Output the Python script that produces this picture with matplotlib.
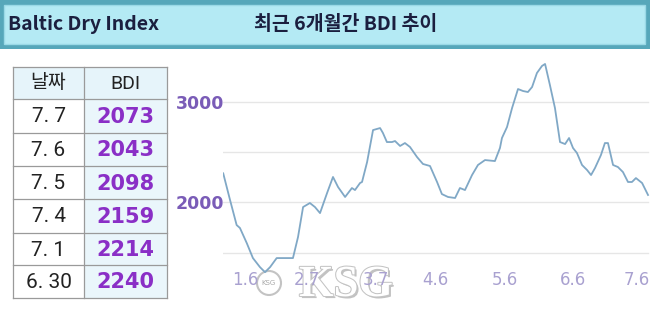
import matplotlib.pyplot as plt
import matplotlib.patheffects as pe
import matplotlib.transforms as mtrans
from matplotlib.patches import Rectangle, Circle

# table on the left
table_dates = ['7. 7', '7. 6', '7. 5', '7. 4', '7. 1', '6. 30']
table_bdi = [2073, 2043, 2098, 2159, 2214, 2240]

# 6 month BDI line (x = days after 1.6)
days = [-9.9, -6.8, -3.8, -2.3, 0.8, 3.6, 6.8, 9.1, 11.4, 14.4, 16.7, 21.8, 24.1, 26.4,
        29.5, 31.8, 34.1, 37.3, 40.0, 42.3, 45.5, 48.6, 50.0, 52.3, 53.2, 55.5, 58.2,
        61.4, 62.7, 64.5, 66.8, 68.2, 70.5, 72.7, 75.0, 78.2, 80.9, 84.1, 87.3, 89.5,
        92.3, 95.5, 97.7, 100.0, 103.2, 105.9, 109.1, 113.6, 115.9, 116.8, 119.1, 121.4,
        124.1, 126.4, 128.6, 130.5, 132.7, 135.0, 136.4, 138.6, 140.9, 143.2, 145.5,
        147.3, 149.1, 150.9, 153.2, 155.5, 157.3, 159.1, 161.8, 163.6, 165.0, 167.3,
        169.5, 171.8, 174.1, 175.9, 177.7, 180.5, 183.2]
bdi = [2288, 2023, 1774, 1745, 1595, 1446, 1356, 1306, 1356, 1446, 1446, 1446, 1655, 1953,
       1993, 1953, 1893, 2092, 2252, 2152, 2053, 2142, 2122, 2192, 2202, 2400, 2718,
       2738, 2689, 2599, 2599, 2609, 2560, 2589, 2550, 2450, 2381, 2361, 2202, 2082,
       2053, 2043, 2142, 2122, 2271, 2371, 2420, 2410, 2540, 2639, 2748, 2937,
       3126, 3106, 3096, 3146, 3285, 3355, 3375, 3166, 2937, 2599, 2579,
       2639, 2540, 2490, 2371, 2321, 2271, 2341, 2470, 2589, 2589, 2371,
       2351, 2301, 2202, 2202, 2241, 2192, 2073]

tick_pos = [0, 28.2, 59.5, 86.4, 118.2, 149.1, 180.9]
tick_labels = ['1.6', '2.7', '3.7', '4.6', '5.6', '6.6', '7.6']
grid_levels = [1500, 2000, 2500, 3000]
label_levels = [2000, 3000]

KR = ['Noto Sans CJK KR', 'DejaVu Sans']

fig = plt.figure(figsize=(6.5, 3.11), dpi=100)
fig.patch.set_facecolor('white')

# background axes in pixel coords
bg = fig.add_axes([0, 0, 1, 1])
bg.set_xlim(0, 650)
bg.set_ylim(311, 0)
bg.axis('off')

# header band
bg.add_patch(Rectangle((0, 0), 650, 49, color='#56a7ba', lw=0))
bg.add_patch(Rectangle((4, 5), 641, 39, facecolor='#b4eaf4', edgecolor='#9ad9e6', lw=1))
bg.text(8, 24.5, 'Baltic Dry Index', family=KR, fontsize=14, fontweight='bold',
        color='#1b1f3f', ha='left', va='center')
bg.text(346, 24.5, '최근 6개월간 BDI 추이', family=KR, fontsize=14, fontweight='bold',
        color='#1b1f3f', ha='center', va='center')

# table
row_edges = [67, 99, 133, 166, 199, 233, 265, 298]
col_edges = [13, 84, 167]
bg.add_patch(Rectangle((13, 67), 154, 32, color='#e6f4fa', lw=0))
bg.add_patch(Rectangle((84, 99), 83, 199, color='#eaf6fb', lw=0))
for y in row_edges:
    bg.plot([13, 167], [y, y], color='#9a9a9a', lw=0.9)
for x in col_edges:
    bg.plot([x, x], [67, 298], color='#9a9a9a', lw=0.9)

bg.text(48.5, 83, '날짜', family=KR, fontsize=14, color='#222222', ha='center', va='center')
bg.text(125.5, 84, 'BDI', family='Roboto', fontsize=14, color='#222222', ha='center', va='center')
for i in range(len(table_dates)):
    yc = (row_edges[i + 1] + row_edges[i + 2]) / 2
    bg.text(48.5, yc + 1, table_dates[i], family='Roboto', fontsize=15, color='#222222',
            ha='center', va='center')
    bg.text(125.5, yc + 1, str(table_bdi[i]), family='DejaVu Sans', fontsize=15,
            fontweight='bold', color='#8a2fc6', ha='center', va='center')

# line chart
ax = fig.add_axes([223 / 650, 0, 427 / 650, 256 / 311])
ax.patch.set_alpha(0)
ax.set_xlim(-10, 184.1)
ax.set_ylim(920, 3464)
for s in ax.spines.values():
    s.set_visible(False)
for lv in grid_levels:
    ax.axhline(lv, color='#e6e6e6', lw=1, xmax=0.995, zorder=1)
ax.plot(days, bdi, color='#80a8c6', lw=1.3, solid_joinstyle='round', zorder=3)

ax.set_yticks(label_levels)
ax.set_yticklabels([str(v) for v in label_levels])
ax.tick_params(axis='y', length=0, pad=-1, labelsize=12.5, labelcolor='#7a5cb7')
for t in ax.get_yticklabels():
    t.set_fontweight('bold')

ax.set_xticks(tick_pos)
ax.set_xticklabels(tick_labels)
ax.tick_params(axis='x', length=0, pad=-29, labelsize=12, labelcolor='#a9a1d0')
# last label sits against the right edge
last = ax.get_xticklabels()[-1]
last.set_transform(last.get_transform() + mtrans.ScaledTranslation(-6 / 100, 0, fig.dpi_scale_trans))

# KSG watermark
bg.add_patch(Circle((269, 283), 12, facecolor='white', edgecolor='#c0c0c0', lw=1.5,
                    alpha=0.95, zorder=10))
bg.text(269, 283, 'KSG', fontsize=5, color='#a8a8a8', ha='center', va='center', zorder=11)
bg.text(346, 285, 'KSG', family='Liberation Serif', fontsize=32, fontweight='bold',
        color='white', ha='center', va='center',
        path_effects=[pe.withSimplePatchShadow(offset=(1.5, -1.5), shadow_rgbFace='#9a9a9a', alpha=0.6),
                      pe.withStroke(linewidth=1.5, foreground='#c4c4c4')], zorder=12)

fig.savefig('out.png', dpi=100)
